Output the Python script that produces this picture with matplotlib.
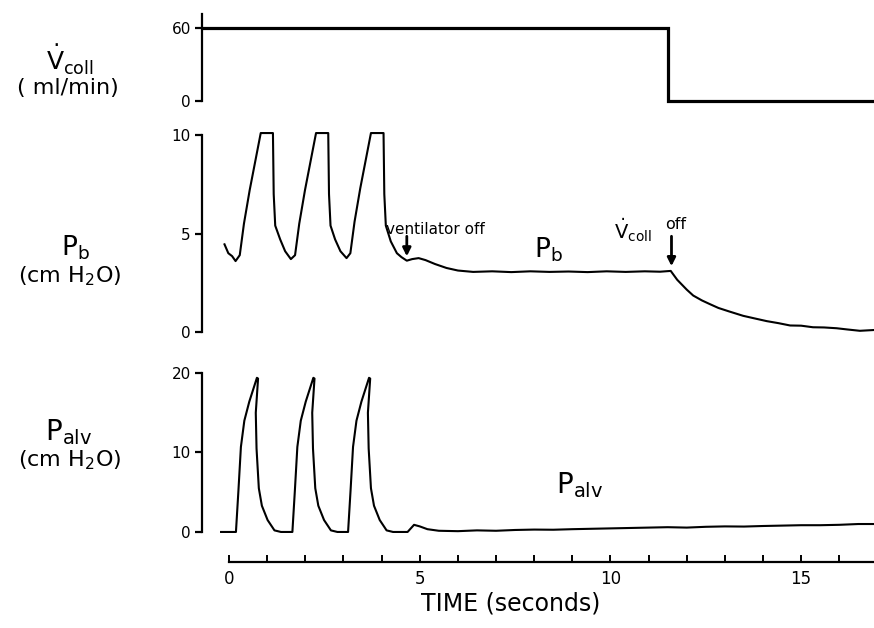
import matplotlib
matplotlib.use("Agg")
import matplotlib.pyplot as plt

plt.rcParams['font.family'] = ['DejaVu Sans']
plt.rcParams['mathtext.fontset'] = 'dejavusans'

# ---------------- data ----------------
vcoll_t = [-0.71, 11.5, 11.5, 16.91]
vcoll_v = [60, 60, 0, 0]

pb_t = [-0.12, -0.02, 0.08, 0.17, 0.28, 0.39, 0.54, 0.70, 0.83, 1.15, 1.17, 1.21, 1.34, 1.47, 1.62,
        1.73, 1.84, 1.99, 2.15, 2.28, 2.60, 2.62, 2.66, 2.78, 2.92, 3.08,
        3.18, 3.29, 3.44, 3.60, 3.72, 4.05, 4.07, 4.11, 4.24, 4.40, 4.52, 4.66,
        4.80, 4.97, 5.15, 5.40, 5.70, 6.00, 6.40, 6.90, 7.40, 7.90, 8.40, 8.90, 9.40, 9.90,
        10.40, 10.90, 11.30, 11.58,
        11.75, 12.00, 12.17, 12.40, 12.60, 12.83, 13.10, 13.48, 13.80, 14.10, 14.40, 14.71,
        15.00, 15.31, 15.60, 15.93, 16.20, 16.54, 16.91]
pb_v = [4.45, 4.0, 3.85, 3.6, 3.9, 5.5, 7.2, 8.8, 10.1, 10.1, 7.0, 5.4, 4.7, 4.1, 3.7,
        3.9, 5.5, 7.2, 8.8, 10.1, 10.1, 7.0, 5.4, 4.7, 4.1, 3.75,
        4.0, 5.6, 7.3, 8.9, 10.1, 10.1, 7.0, 5.4, 4.6, 4.0, 3.8, 3.62,
        3.7, 3.75, 3.65, 3.45, 3.25, 3.12, 3.05, 3.08, 3.04, 3.08, 3.05, 3.07, 3.04, 3.08,
        3.05, 3.08, 3.06, 3.1,
        2.65, 2.15, 1.85, 1.6, 1.42, 1.22, 1.05, 0.82, 0.68, 0.55, 0.45, 0.33,
        0.32, 0.24, 0.23, 0.19, 0.13, 0.06, 0.1]

palv_t = [-0.21, 0.18, 0.245, 0.31, 0.40, 0.53, 0.65, 0.73, 0.76, 0.70, 0.72, 0.78, 0.86, 1.01, 1.19, 1.36,
          1.66, 1.725, 1.79, 1.88, 2.01, 2.13, 2.21, 2.24, 2.18, 2.20, 2.26, 2.34, 2.49, 2.67, 2.84,
          3.12, 3.185, 3.25, 3.34, 3.47, 3.59, 3.67, 3.70, 3.64, 3.66, 3.72, 3.80, 3.95, 4.13, 4.30,
          4.68, 4.85, 5.00, 5.20, 5.50, 6.00, 6.50, 7.00, 7.50, 8.00, 8.50, 9.00, 9.50, 10.00,
          10.50, 11.00, 11.50, 12.00, 12.50, 13.00, 13.50, 14.00, 14.50, 15.00, 15.50, 16.00,
          16.50, 16.91]
palv_v = [0, 0, 5.2, 10.7, 14.0, 16.4, 18.2, 19.4, 19.3, 15.0, 10.5, 5.5, 3.3, 1.5, 0.2, 0,
          0, 5.2, 10.7, 14.0, 16.4, 18.2, 19.4, 19.3, 15.0, 10.5, 5.5, 3.3, 1.5, 0.2, 0,
          0, 5.2, 10.7, 14.0, 16.4, 18.2, 19.4, 19.3, 15.0, 10.5, 5.5, 3.3, 1.5, 0.2, 0,
          0, 0.9, 0.7, 0.35, 0.15, 0.1, 0.2, 0.15, 0.25, 0.3, 0.28, 0.35, 0.4, 0.45,
          0.5, 0.55, 0.6, 0.55, 0.65, 0.7, 0.68, 0.75, 0.8, 0.85, 0.85, 0.9,
          1.0, 1.0]

time_ticks = list(range(0, 17))
time_labels = ['0', '5', '10', '15']

# ---------------- layout helpers ----------------
W, H = 874, 628
fig = plt.figure(figsize=(W / 100, H / 100), dpi=100)


def box(left, top, right, bottom):
    return [left / W, 1 - bottom / H, (right - left) / W, (bottom - top) / H]


XL = (-0.71, 16.91)
LEFT, RIGHT = 202, 874

ax1 = fig.add_axes(box(LEFT, 12.9, RIGHT, 104.2))
ax2 = fig.add_axes(box(LEFT, 123.2, RIGHT, 343.8))
ax3 = fig.add_axes(box(LEFT, 361.1, RIGHT, 541.5))
ax4 = fig.add_axes(box(LEFT, 530, RIGHT, 562))

for ax in (ax1, ax2, ax3, ax4):
    ax.set_xlim(*XL)
    ax.patch.set_visible(False)
    for s in ('top', 'right', 'bottom'):
        ax.spines[s].set_visible(False)
    ax.spines['left'].set_linewidth(1.6)
    ax.tick_params(axis='y', direction='out', length=5, width=1.6, labelsize=11, pad=3)
    ax.tick_params(axis='x', bottom=False, labelbottom=False)

ax1.set_ylim(-3, 72)
ax1.spines['left'].set_bounds(0, 71)
ax1.set_yticks([0, 60])
ax1.plot(vcoll_t, vcoll_v, color='black', lw=2.3, solid_joinstyle='miter')

ax2.set_ylim(-0.6, 10.6)
ax2.spines['left'].set_bounds(0, 10)
ax2.set_yticks([0, 5, 10])
ax2.plot(pb_t, pb_v, color='black', lw=1.5)

ax3.set_ylim(-1.2, 21.5)
ax3.spines['left'].set_bounds(0, 20)
ax3.set_yticks([0, 10, 20])
ax3.plot(palv_t, palv_v, color='black', lw=1.5)

# time axis
ax4.spines['left'].set_visible(False)
ax4.spines['bottom'].set_visible(True)
ax4.spines['bottom'].set_linewidth(1.6)
ax4.spines['bottom'].set_bounds(0, XL[1])
ax4.set_ylim(0, 1)
ax4.set_yticks([])
ax4.set_xticks(time_ticks)
ax4.set_xticklabels([str(t) if str(t) in time_labels else '' for t in time_ticks])
ax4.tick_params(axis='x', bottom=True, labelbottom=True, direction='in', length=5,
                width=1.4, labelsize=12, pad=6)
fig.text(511 / W, 1 - 604 / H, 'TIME (seconds)', fontsize=17, ha='center', va='center')

# annotations
ax2.annotate('', xy=(4.66, 3.7), xytext=(4.66, 5.0),
             arrowprops=dict(arrowstyle='-|>', lw=2, color='black', mutation_scale=12))
ax2.text(5.42, 5.2, 'ventilator off', fontsize=11, ha='center', va='center')
ax2.annotate('', xy=(11.6, 3.2), xytext=(11.6, 5.0),
             arrowprops=dict(arrowstyle='-|>', lw=2, color='black', mutation_scale=12))
ax2.text(10.58, 5.2, r'$\dot{\mathrm{V}}_{\mathrm{coll}}$', fontsize=14, ha='center', va='center')
ax2.text(11.7, 5.45, 'off', fontsize=11.5, ha='center', va='center')
ax2.text(8.38, 4.2, r'$\mathrm{P_b}$', fontsize=19, ha='center', va='center')
ax3.text(9.2, 5.9, r'$\mathrm{P_{alv}}$', fontsize=20, ha='center', va='center')

# left-side labels
fig.text(70 / W, 1 - 60 / H, r'$\dot{\mathrm{V}}_{\mathrm{coll}}$', fontsize=18, ha='center', va='center')
fig.text(68 / W, 1 - 88 / H, '( ml/min)', fontsize=16, ha='center', va='center')
fig.text(75 / W, 1 - 248 / H, r'$\mathrm{P_b}$', fontsize=19, ha='center', va='center')
fig.text(70 / W, 1 - 276 / H, r'(cm H$_2$O)', fontsize=16, ha='center', va='center')
fig.text(69 / W, 1 - 432 / H, r'$\mathrm{P_{alv}}$', fontsize=20, ha='center', va='center')
fig.text(70 / W, 1 - 460 / H, r'(cm H$_2$O)', fontsize=16, ha='center', va='center')

fig.savefig('out.png', dpi=100)
